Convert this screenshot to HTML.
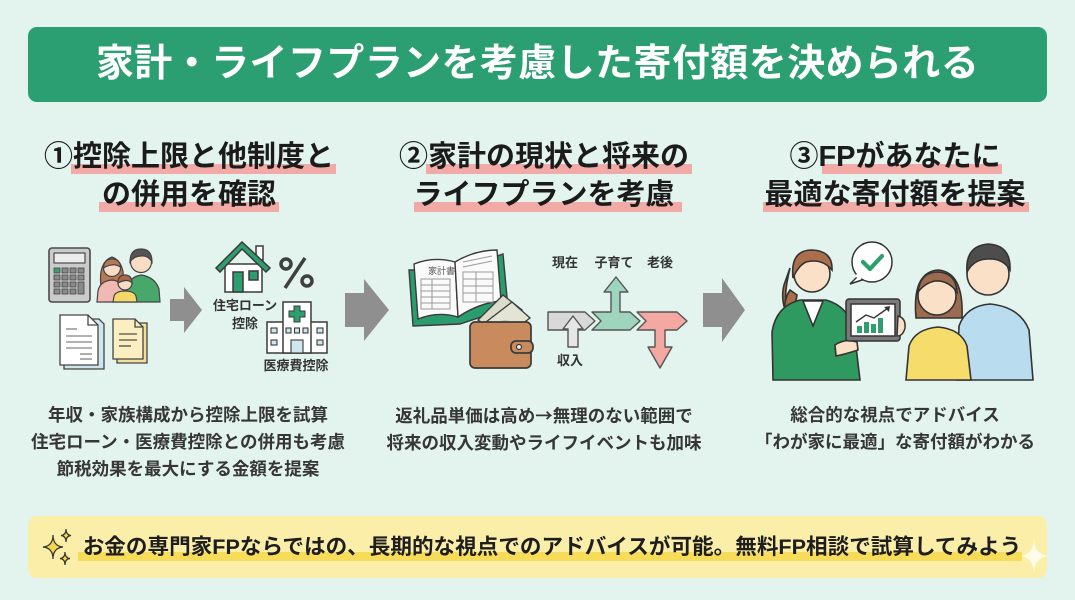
<!DOCTYPE html>
<html lang="ja">
<head>
<meta charset="utf-8">
<style>
  html,body{margin:0;padding:0;}
  body{width:1075px;height:600px;position:relative;overflow:hidden;background:#e3f4ef;
       font-family:"Liberation Sans","Noto Sans CJK JP",sans-serif;}
  .abs{position:absolute;}
  .hdr{left:28px;top:27px;width:1019px;height:75px;background:#2b9e72;border-radius:9px;}
  .hdr-t{left:28px;top:27px;width:1019px;height:75px;line-height:75px;text-align:center;color:#fff;
         font-size:38px;font-weight:700;letter-spacing:0.4px;white-space:nowrap;}
  .ttl{font-size:29px;font-weight:700;line-height:38px;color:#1b1b1b;text-align:center;white-space:nowrap;}
  .hl{background:#f1aaa6;height:10px;}
  .body{font-size:17.5px;font-weight:700;line-height:27px;color:#363636;text-align:center;white-space:nowrap;}
  .lbl{font-size:13px;font-weight:700;color:#333;line-height:14px;white-space:nowrap;text-align:center;}
  .ban{left:28px;top:516px;width:1019px;height:62px;background:#fbeea8;border-radius:9px;}
  .ban-t{font-size:21.6px;font-weight:700;color:#1e1e1e;line-height:30px;white-space:nowrap;}
  .cjk{font-family:"Noto Sans CJK JP",sans-serif;}
</style>
</head>
<body>
<div class="abs hdr"></div>
<div class="abs hdr-t">家計・ライフプランを考慮した寄付額を決められる</div>

<!-- title highlights -->
<div class="abs hl" style="left:71px;top:164px;width:265px;"></div>
<div class="abs hl" style="left:99px;top:202px;width:180px;"></div>
<div class="abs hl" style="left:426px;top:164px;width:266px;"></div>
<div class="abs hl" style="left:414px;top:202px;width:268px;"></div>
<div class="abs hl" style="left:822px;top:164px;width:180px;"></div>
<div class="abs hl" style="left:763px;top:202px;width:266px;"></div>

<!-- column titles -->
<div class="abs ttl" style="left:29px;top:138px;width:320px;">①控除上限と他制度と<br>の併用を確認</div>
<div class="abs ttl" style="left:384px;top:138px;width:320px;">②家計の現状と将来の<br>ライフプランを考慮</div>
<div class="abs ttl" style="left:735px;top:138px;width:320px;">③FPがあなたに<br>最適な寄付額を提案</div>

<!-- body texts -->
<div class="abs body" style="left:8px;top:402px;width:360px;">年収・家族構成から控除上限を試算<br>住宅ローン・医療費控除との併用も考慮<br>節税効果を最大にする金額を提案</div>
<div class="abs body" style="left:364px;top:402px;width:360px;">返礼品単価は高め<span class="cjk">→</span>無理のない範囲で<br>将来の収入変動やライフイベントも加味</div>
<div class="abs body" style="left:715px;top:402px;width:360px;">総合的な視点でアドバイス<br>「わが家に最適」な寄付額がわかる</div>

<!-- illustrations -->
<svg class="abs" style="left:0;top:0" width="1075" height="600" viewBox="0 0 1075 600">
  <!-- calculator -->
  <rect x="49" y="248" width="41" height="54" rx="3" fill="#cbcbcb" stroke="#4a4a4a" stroke-width="1.6"/>
  <rect x="54" y="253" width="31" height="10" fill="#ececec" stroke="#4a4a4a" stroke-width="1.2"/>
  <g fill="#8a8a8a" stroke="#444" stroke-width="0.8">
    <rect x="54" y="268" width="6" height="5" fill="#3aa06a"/><rect x="62" y="268" width="6" height="5"/><rect x="70" y="268" width="6" height="5"/><rect x="78" y="268" width="6" height="5"/>
    <rect x="54" y="275" width="6" height="5"/><rect x="62" y="275" width="6" height="5"/><rect x="70" y="275" width="6" height="5"/><rect x="78" y="275" width="6" height="5"/>
    <rect x="54" y="282" width="6" height="5"/><rect x="62" y="282" width="6" height="5"/><rect x="70" y="282" width="6" height="5"/><rect x="78" y="282" width="6" height="12"/>
    <rect x="54" y="289" width="6" height="5"/><rect x="62" y="289" width="6" height="5"/><rect x="70" y="289" width="6" height="5"/>
  </g>
  <!-- family -->
  <g stroke="#444" stroke-width="1.2">
    <path d="M127,302 L127,289 Q129,277 141,275 Q155,277 159,289 L160,302 Z" fill="#47a86a"/>
    <circle cx="141" cy="262" r="10.5" fill="#f9dcc4"/>
    <path d="M130,262 Q130,249 141,249 Q152,249 152,262 Q148,255 141,256 Q134,256 130,262 Z" fill="#555"/>
    <path d="M101,287 Q98,262 112,257 Q126,262 123,287 Z" fill="#b77852"/>
    <path d="M97,302 L98,291 Q100,281 112,280 Q122,281 125,291 L125,302 Z" fill="#f2b8b4"/>
    <circle cx="112" cy="268" r="8.5" fill="#f9dcc4"/>
    <path d="M103.5,268 Q104,259 112,259 Q120,259 120.5,267 Q113,262 103.5,268 Z" fill="#b77852"/>
    <path d="M113,302 L114,296 Q116,291 125,291 Q134,291 136,296 L137,302 Z" fill="#f6d76a"/>
    <circle cx="125" cy="283" r="7" fill="#f9dcc4"/>
    <path d="M118,283 Q118,275 125,275 Q132,275 132,283 Q128,278 118,283 Z" fill="#a86a45"/>
  </g>
  <!-- documents -->
  <g stroke="#444" stroke-width="1.3">
    <polygon points="64,319 99,319 104,324 104,369 64,369" fill="#cfe6ef"/>
    <polygon points="60,315 88,315 98,325 98,365 60,365" fill="#fff"/>
    <polyline points="88,315 88,325 98,325" fill="none"/>
    <polygon points="117,323 147,323 147,363 117,363" fill="#f3df98"/>
    <polygon points="113,319 135,319 143,327 143,359 113,359" fill="#fbefc2"/>
    <polyline points="135,319 135,327 143,327" fill="none"/>
  </g>
  <g stroke="#9a9a9a" stroke-width="1.6">
    <line x1="66" y1="329" x2="77" y2="329"/><line x1="66" y1="336" x2="92" y2="336"/>
    <line x1="66" y1="342" x2="92" y2="342"/><line x1="66" y1="348" x2="92" y2="348"/>
    <line x1="80" y1="354" x2="92" y2="354"/><line x1="80" y1="359" x2="92" y2="359"/>
  </g>
  <g stroke="#6a6a5a" stroke-width="1.6">
    <line x1="119" y1="334" x2="137" y2="334"/><line x1="119" y1="340" x2="137" y2="340"/><line x1="119" y1="346" x2="131" y2="346"/>
  </g>
  <!-- small arrow -->
  <polygon points="170,299 184,299 184,287 202,310 184,333 184,321 170,321" fill="#8f8f8f"/>
  <!-- house -->
  <g stroke="#3a3a3a" stroke-width="1.5">
    <rect x="256" y="246" width="7" height="14" fill="#fff"/>
    <rect x="225" y="264" width="37" height="28" fill="#fff"/>
    <polygon points="216,268 242,242 270,268 266,272 242,249 220,272" fill="#2e9e6e"/>
    <rect x="233" y="272" width="10" height="20" fill="#2e9e6e"/>
    <rect x="249" y="271" width="9" height="9" fill="#2e9e6e"/>
  </g>
  <!-- percent -->
  <g stroke="#3f3f3f" stroke-width="3.5" fill="none">
    <circle cx="286" cy="264" r="5"/><circle cx="307" cy="281" r="5"/>
    <line x1="305" y1="258" x2="285" y2="288"/>
  </g>
  <!-- hospital -->
  <g stroke="#3a3a3a" stroke-width="1.5">
    <rect x="267" y="322" width="60" height="31" fill="#fff"/>
    <rect x="283" y="302" width="28" height="51" fill="#fff"/>
    <path d="M294,306 h6 v5 h5 v6 h-5 v5 h-6 v-5 h-5 v-6 h5 Z" fill="#2e9e6e" stroke-width="1"/>
    <g fill="#cfe6ef" stroke-width="1.1">
      <rect x="271" y="328" width="6" height="5"/><rect x="271" y="340" width="6" height="5"/>
      <rect x="317" y="328" width="6" height="5"/><rect x="317" y="340" width="6" height="5"/>
      <rect x="286" y="328" width="5" height="5"/><rect x="294.5" y="328" width="5" height="5"/><rect x="303" y="328" width="5" height="5"/>
      <rect x="291" y="340" width="12" height="13"/>
    </g>
  </g>
  <!-- big arrows -->
  <polygon points="345,293 364,293 364,279 389,310 364,341 364,327 345,327" fill="#8f8f8f"/>
  <polygon points="703,293 722,293 722,278 745,310 722,342 722,327 703,327" fill="#8f8f8f"/>
  <!-- book -->
  <g stroke="#3a3a3a" stroke-width="1.4">
    <path d="M409,270 L456,270 L503,254 L508,308 L460,324 L413,326 Z" fill="#2a9d6f"/>
    <path d="M414,264 Q434,256 455,262 L458,317 Q438,311 418,319 Z" fill="#fafafa"/>
    <path d="M455,262 Q475,250 497,250 L501,301 Q479,303 458,317 Z" fill="#fafafa"/>
  </g>
  <g stroke="#9a9a9a" stroke-width="1" fill="none">
    <rect x="421" y="279" width="29" height="30"/>
    <line x1="421" y1="285" x2="450" y2="285"/><line x1="421" y1="291" x2="450" y2="291"/>
    <line x1="421" y1="297" x2="450" y2="297"/><line x1="421" y1="303" x2="450" y2="303"/>
    <line x1="432" y1="279" x2="432" y2="309"/>
    <line x1="463" y1="262" x2="492" y2="256"/><line x1="463" y1="267" x2="492" y2="261"/>
    <rect x="463" y="272" width="30" height="30"/>
    <line x1="463" y1="279" x2="493" y2="279"/><line x1="463" y1="286" x2="493" y2="286"/><line x1="463" y1="293" x2="493" y2="293"/>
    <line x1="476" y1="272" x2="476" y2="302"/>
  </g>
  <text x="428" y="274" font-size="9" fill="#555" font-family="Noto Sans CJK JP, sans-serif">家計書</text>
  <!-- money -->
  <g stroke="#3a3a3a" stroke-width="1.3">
    <polygon points="478,320 503,295 522,310 500,334" fill="#dcdccb"/>
    <polygon points="486,322 512,302 530,318 506,336" fill="#e4e4d4"/>
    <ellipse cx="505" cy="326" rx="7" ry="6" fill="#a8d7a0" stroke="none"/>
  </g>
  <!-- wallet -->
  <g stroke="#3a3a3a" stroke-width="1.7">
    <rect x="470" y="322" width="61" height="46" rx="5" fill="#c98b5d"/>
    <rect x="511" y="341" width="22" height="12" rx="5" fill="#c98b5d"/>
    <circle cx="519" cy="347" r="2.5" fill="#eee" stroke-width="1.2"/>
  </g>
  <!-- flow arrows -->
  <g stroke="#555" stroke-width="1.4" stroke-linejoin="round">
    <polygon points="548,312 585,312 595,321 585,330 548,330" fill="#d9d9d9"/>
    <polygon points="568,347 568,329 563,329 573,316 583,329 578,329 578,347" fill="#e6e6e6"/>
    <polygon points="592,312 611,312 611,292 604,292 616,277 628,292 620,292 620,312 630,312 640,321 630,330 592,330 601,321" fill="#9fd5be"/>
    <polygon points="637,312 677,312 687,321 677,330 665,330 665,347 672,347 660,368 648,347 655,347 655,330 637,330 646,321" fill="#f3a8a2"/>
  </g>

  <!-- column 3 people -->
  <!-- man -->
  <g stroke="#333" stroke-width="1.6">
    <path d="M957,380 L959,326 Q966,306 990,304 Q1020,307 1029,330 L1033,380 Z" fill="#b9ddef"/>
    <circle cx="988" cy="274" r="21" fill="#fbe0c8"/>
    <path d="M967,272 Q965,246 988,244 Q1011,245 1010,270 Q1003,258 988,259 Q974,259 967,272 Z" fill="#4d4d4d"/>
  </g>
  <!-- customer woman -->
  <g stroke="#333" stroke-width="1.6">
    <path d="M916,318 Q912,272 938,270 Q964,272 962,318 Z" fill="#9a6b4f"/>
    <path d="M906,380 L909,346 Q915,329 938,327 Q961,329 967,346 L971,380 Z" fill="#f6dc6b"/>
    <circle cx="937" cy="296" r="19" fill="#fbe0c8"/>
    <path d="M918,292 Q920,272 938,272 Q956,273 957,292 Q948,280 935,281 Q925,283 918,292 Z" fill="#9a6b4f"/>
  </g>
  <!-- FP woman -->
  <g stroke="#333" stroke-width="1.6">
    <path d="M790,268 Q782,300 788,318 Q780,300 784,285 Z" fill="#a86f4a"/>
    <path d="M790,290 Q782,302 786,318 Q795,310 797,295 Z" fill="#a86f4a"/>
    <path d="M773,380 L772,332 Q776,306 800,300 L826,300 Q848,306 854,330 L860,380 Z" fill="#2f9a5f"/>
    <polygon points="803,301 813,326 823,301" fill="#fff"/>
    <path d="M835,345 Q845,338 857,342 L858,350 Q846,354 836,356 Z" fill="#fbe0c8"/>
    <circle cx="812" cy="274" r="18" fill="#fbe0c8"/>
    <path d="M793,278 Q790,250 812,250 Q833,251 832,270 Q822,258 806,262 Q798,266 793,278 Z" fill="#a86f4a"/>
  </g>
  <!-- tablet -->
  <g stroke="#333" stroke-width="1.5">
    <rect x="846" y="299" width="54" height="42" rx="3" fill="#7a7a7a"/>
    <rect x="851" y="304" width="44" height="32" fill="#fff"/>
    <path d="M898,316 Q906,318 905,328 Q903,336 897,336 Z" fill="#fbe0c8"/>
  </g>
  <g fill="#2e9e6e">
    <rect x="857" y="326" width="5" height="7"/><rect x="864" y="322" width="5" height="11"/>
    <rect x="871" y="324" width="5" height="9"/><rect x="878" y="318" width="5" height="15"/>
  </g>
  <polyline points="856,322 866,315 874,318 888,308" fill="none" stroke="#333" stroke-width="1.4"/>
  <polygon points="884,307 890,306 889,312" fill="#333"/>
  <!-- speech bubble -->
  <g stroke="#333" stroke-width="1.5">
    <path d="M858,276 L850,284 L862,280 Z" fill="#fff"/>
    <circle cx="872" cy="262" r="20" fill="#fff"/>
    <path d="M856,275 L861,279" stroke="#fff" stroke-width="3"/>
  </g>
  <polyline points="863,262 870,269 882,256" fill="none" stroke="#2e9e6e" stroke-width="4.2" stroke-linecap="round" stroke-linejoin="round"/>

  <!-- banner -->
  <rect x="28" y="516" width="1019" height="62" rx="9" fill="#fbeea8"/>
  <rect x="78" y="552" width="944" height="9" fill="#f7dc5a"/>
  <g fill="#f7d64a" stroke="#333" stroke-width="1.2">
    <path d="M53,535 Q53,546 63,547 Q53,548 53,559 Q53,548 43,547 Q53,546 53,535 Z"/>
    <path d="M66,529 Q66,535 71,535.5 Q66,536 66,542 Q66,536 61,535.5 Q66,535 66,529 Z"/>
    <path d="M65,552 Q65,558 70,558.5 Q65,559 65,565 Q65,559 60,558.5 Q65,558 65,552 Z"/>
  </g>
  <path d="M1034,538 Q1034,554 1048,556 Q1034,558 1034,574 Q1034,558 1020,556 Q1034,554 1034,538 Z" fill="#ffffff" opacity="0.75"/>
</svg>

<!-- illustration labels -->
<div class="abs lbl" style="left:205px;top:299px;width:80px;">住宅ローン</div>
<div class="abs lbl" style="left:205px;top:317px;width:80px;">控除</div>
<div class="abs lbl" style="left:256px;top:359px;width:80px;">医療費控除</div>
<div class="abs lbl" style="left:545px;top:256px;width:40px;">現在</div>
<div class="abs lbl" style="left:589px;top:256px;width:50px;">子育て</div>
<div class="abs lbl" style="left:640px;top:256px;width:40px;">老後</div>
<div class="abs lbl" style="left:550px;top:354px;width:40px;">収入</div>

<!-- banner text -->
<div class="abs ban-t" style="left:76px;top:532px;width:952px;text-align:center;">お金の専門家FPならではの、長期的な視点でのアドバイスが可能。無料FP相談で試算してみよう</div>
</body>
</html>
